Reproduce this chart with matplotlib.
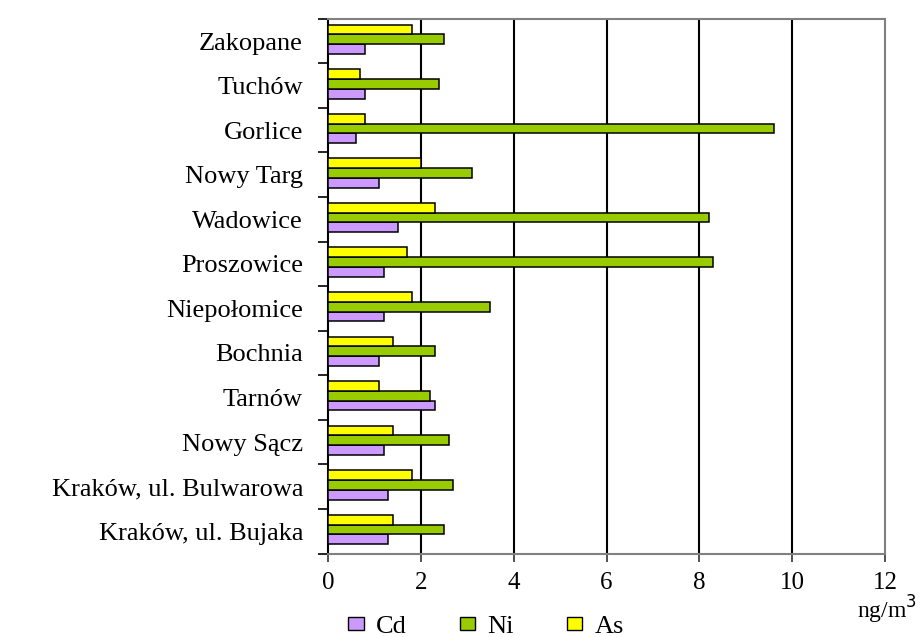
import numpy as np
import matplotlib
matplotlib.use("Agg")
import matplotlib.pyplot as plt
from matplotlib.patches import Patch

plt.rcParams['font.family'] = ['Liberation Serif', 'DejaVu Serif']

# Stations, listed from the bottom of the chart to the top
stations = [
    "Kraków, ul. Bujaka",
    "Kraków, ul. Bulwarowa",
    "Nowy Sącz",
    "Tarnów",
    "Bochnia",
    "Niepołomice",
    "Proszowice",
    "Wadowice",
    "Nowy Targ",
    "Gorlice",
    "Tuchów",
    "Zakopane",
]

# Mean concentrations in ng/m3
cd = [1.3, 1.3, 1.2, 2.3, 1.1, 1.2, 1.2, 1.5, 1.1, 0.6, 0.8, 0.8]
ni = [2.5, 2.7, 2.6, 2.2, 2.3, 3.5, 8.3, 8.2, 3.1, 9.6, 2.4, 2.5]
as_ = [1.4, 1.8, 1.4, 1.1, 1.4, 1.8, 1.7, 2.3, 2.0, 0.8, 0.7, 1.8]

x_ticks = [0, 2, 4, 6, 8, 10, 12]
unit_label = "ng/m$^3$"

c_cd = "#CC99FF"
c_ni = "#99CC00"
c_as = "#FFFF00"

W, H = 922, 637
fig = plt.figure(figsize=(W / 100, H / 100), dpi=100)
ax = fig.add_axes([328 / W, 1 - 553.5 / H, (885 - 328) / W, (553.5 - 18.8) / H])

y = np.arange(len(stations))
h = 0.22
off = 0.04  # groups sit slightly above the category centre
bar_kw = dict(height=h, edgecolor="black", linewidth=1.1, zorder=3)
ax.barh(y - h + off, cd, color=c_cd, **bar_kw)
ax.barh(y + off, ni, color=c_ni, **bar_kw)
ax.barh(y + h + off, as_, color=c_as, **bar_kw)

ax.set_xlim(0, 12)
ax.set_ylim(-0.5, len(stations) - 0.5)

# Vertical gridlines at each major x tick
for v in x_ticks[1:-1]:
    ax.axvline(v, color="black", linewidth=1.5, zorder=1)

ax.set_xticks(x_ticks)
ax.set_xticklabels([str(v) for v in x_ticks], fontsize=18)
ax.tick_params(axis="x", direction="out", length=6, width=1.2, pad=7,
               color="#333333")

ax.set_yticks(y)
ax.set_yticklabels(stations, fontsize=19)
ax.tick_params(axis="y", which="major", length=0, pad=18)
ax.set_yticks(np.arange(-0.5, len(stations), 1.0), minor=True)
ax.tick_params(axis="y", which="minor", direction="out", length=7, width=1.2)

for side in ("top", "right", "bottom"):
    ax.spines[side].set_color("#808080")
    ax.spines[side].set_linewidth(1.5)
ax.spines["left"].set_color("black")
ax.spines["left"].set_linewidth(1.5)

fig.text(917 / W, 1 - 610 / H, unit_label, fontsize=17, ha="right", va="center")

handles = [
    Patch(facecolor=c_cd, edgecolor="black", linewidth=1.0, label="Cd"),
    Patch(facecolor=c_ni, edgecolor="black", linewidth=1.0, label="Ni"),
    Patch(facecolor=c_as, edgecolor="black", linewidth=1.0, label="As"),
]
fig.legend(handles=handles, loc="center", bbox_to_anchor=(486 / W, 1 - 627 / H),
           ncol=3, frameon=False, fontsize=19, handlelength=0.6,
           handleheight=0.42, handletextpad=0.45, columnspacing=2.0,
           borderpad=0, borderaxespad=0)

fig.savefig("out.png", dpi=100)
